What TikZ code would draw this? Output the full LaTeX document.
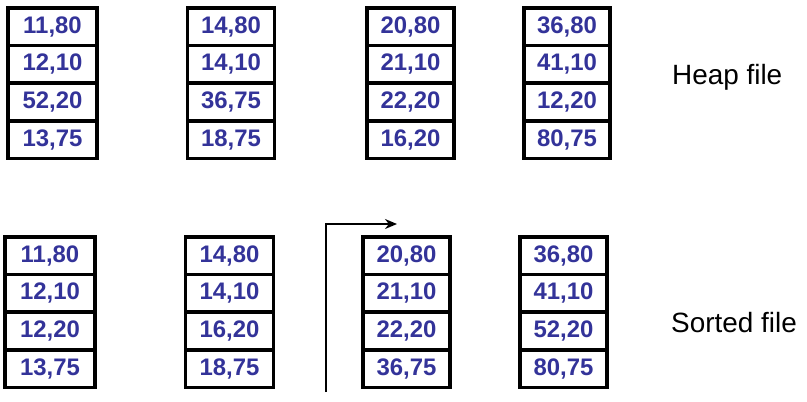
\documentclass[tikz,border=0pt]{standalone}
\usepackage{fontspec}
\setmainfont{Liberation Sans}
\usetikzlibrary{arrows.meta}
\definecolor{numblue}{HTML}{333399}
\tikzset{
  cell/.style={draw=black, line width=3.5bp, inner sep=0pt, minimum width=#1bp, minimum height=37.5bp,
    font=\fontsize{24}{26}\selectfont\bfseries, text=numblue},
  lbl/.style={font=\fontsize{28}{30}\selectfont, anchor=west, inner sep=0pt},
  ptr/.style={line width=2.5bp, -{Stealth[length=12bp,width=10bp]}}
}
\newcommand{\pagebox}[5]{% name, xleft, xright, ytop, list
  \foreach \v [count=\i] in {#5} {
    \node[cell={#3-#2}] (#1c\i) at ({(#2+#3)/2},{-(#4+37.6*(\i-0.5))-1}) {\v};
  }
}
\begin{document}
\begin{tikzpicture}[x=1bp,y=1bp]
\useasboundingbox (0,0) rectangle (807,-401);
\fill[white] (0,0) rectangle (807,-401);
\pagebox{ta}{8}{97}{7}{{11,80},{12,10},{52,20},{13,75}}
\pagebox{tb}{187}{275}{7}{{14,80},{14,10},{36,75},{18,75}}
\pagebox{tc}{366}{455}{7}{{20,80},{21,10},{22,20},{16,20}}
\pagebox{td}{523}{611}{7}{{36,80},{41,10},{12,20},{80,75}}
\pagebox{ba}{5}{95}{236}{{11,80},{12,10},{12,20},{13,75}}
\pagebox{bb}{185}{274}{236}{{14,80},{14,10},{16,20},{18,75}}
\pagebox{bc}{362}{451}{236}{{20,80},{21,10},{22,20},{36,75}}
\pagebox{bd}{519}{608}{236}{{36,80},{41,10},{52,20},{80,75}}
\node[lbl] (heap) at (672,-77) {Heap file};
\node[lbl] (sorted) at (671,-323) {Sorted file};
\coordinate (a0) at (326,-392);
\coordinate (a2) at (397,-224);
\draw[ptr] (a0) |- (a2);
\end{tikzpicture}
\end{document}
